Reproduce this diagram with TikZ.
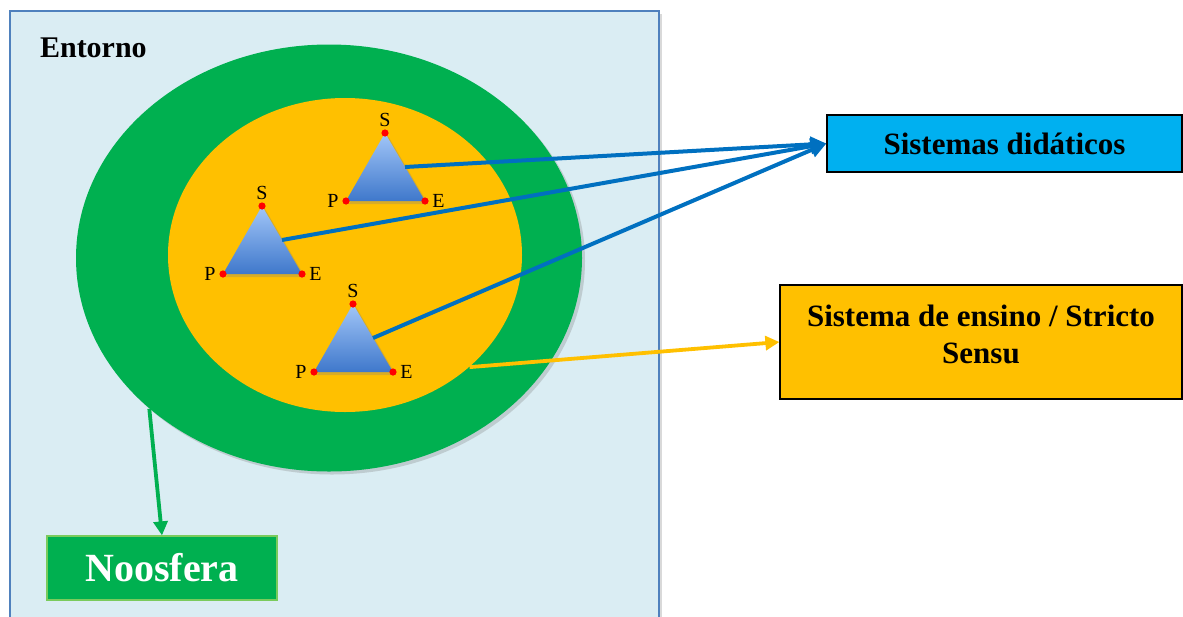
\documentclass[tikz,border=0pt]{standalone}
\usepackage{fontspec}
\setmainfont{Liberation Serif}
\usepackage{tikz}
\usepackage{xcolor}
\usetikzlibrary{arrows.meta,shapes.geometric,shadows,calc}

\definecolor{entfill}{HTML}{DAEDF3}
\definecolor{entline}{HTML}{4F81BD}
\definecolor{grn}{HTML}{00B050}
\definecolor{yel}{HTML}{FFC000}
\definecolor{arrblue}{HTML}{0070C0}
\definecolor{didfill}{HTML}{00B0F0}
\definecolor{noosline}{HTML}{7ACB5C}
\definecolor{tritop}{HTML}{A2C6F8}
\definecolor{tribot}{HTML}{3F78CB}

\tikzset{
  softshadow/.style={drop shadow={opacity=0.3, shadow xshift=1.5pt, shadow yshift=-1.5pt}},
  box/.style={rectangle, draw=black, line width=0.6pt, inner sep=0pt,
              font=\bfseries\fontsize{15.5}{18.5}\selectfont},
  vlabel/.style={font=\fontsize{10}{11}\selectfont, inner sep=1pt}
}

\begin{document}
\begin{tikzpicture}[x=0.5pt,y=-0.5pt]
        \useasboundingbox (0,0) rectangle (1183,616);

        % environment, outer and inner circles
        \node (ent) [rectangle, draw=entline, fill=entfill, line width=0.8pt,
                     minimum width=324.5pt, minimum height=307pt, inner sep=0pt,
                     softshadow] at (334.5,318) {};
        \node (entlbl) [anchor=west, font=\bfseries\fontsize{15}{18}\selectfont]
              at (33,48) {Entorno};

        \node (grn) [ellipse, fill=grn, minimum width=253pt, minimum height=213.5pt,
                     inner sep=0pt, softshadow] at (329,258) {};
        \node (yel) [ellipse, fill=yel, minimum width=177pt, minimum height=157pt,
                     inner sep=0pt] at (345,255) {};

        % didactic triangles S-P-E
        \foreach \n/\x/\y in {1/385/133, 2/262/206, 3/353/304} {
            \coordinate (S\n) at (\x,\y);
            \coordinate (P\n) at (\x-39,\y+68);
            \coordinate (E\n) at (\x+40,\y+68);
            \shade [top color=tritop, bottom color=tribot, softshadow]
                (S\n) -- (P\n) -- (E\n) -- cycle;
            \fill [red] (S\n) circle (1.8pt) (P\n) circle (1.8pt) (E\n) circle (1.8pt);
            \node (s\n) [vlabel, above=2pt] at (S\n) {S};
            \node (p\n) [vlabel, left=2.5pt] at (P\n) {P};
            \node (e\n) [vlabel, right=2.5pt] at (E\n) {E};
            \coordinate (m\n) at ($(S\n)!0.5!(E\n)$);
        }

        % boxes on the right and below
        \node (did) [box, fill=didfill, minimum width=177.5pt, minimum height=28.5pt]
              at (1004.5,143.5) {Sistemas didáticos};
        \node (ens) [box, fill=yel, minimum width=201pt, minimum height=57pt,
                     align=center, text depth=8pt]
              at (981,342) {Sistema de ensino / Stricto\\Sensu};
        \node (noos) [rectangle, draw=noosline, fill=grn, line width=0.6pt,
                      minimum width=115pt, minimum height=32pt, inner sep=0pt,
                      text=white, font=\bfseries\fontsize{20}{24}\selectfont]
              at (162,568) {Noosfera};

        \begin{scope}[every edge/.style={draw, line width=2pt, arrblue},
                      >={Triangle[length=8pt,width=7.5pt]}]
            \path [->] (m1) edge (did.west);
            \path [->] (m2) edge (did.west);
            \path [->] (m3) edge (did.west);
        \end{scope}

        \begin{scope}[>={Triangle[length=7pt,width=7pt]}]
            \path [->] (yel.-42) edge [draw=yel, line width=1.9pt] (ens.west);
            \path [->] (grn.220) edge [draw=grn, line width=1.9pt] (noos.north);
        \end{scope}
    \end{tikzpicture}
\end{document}
